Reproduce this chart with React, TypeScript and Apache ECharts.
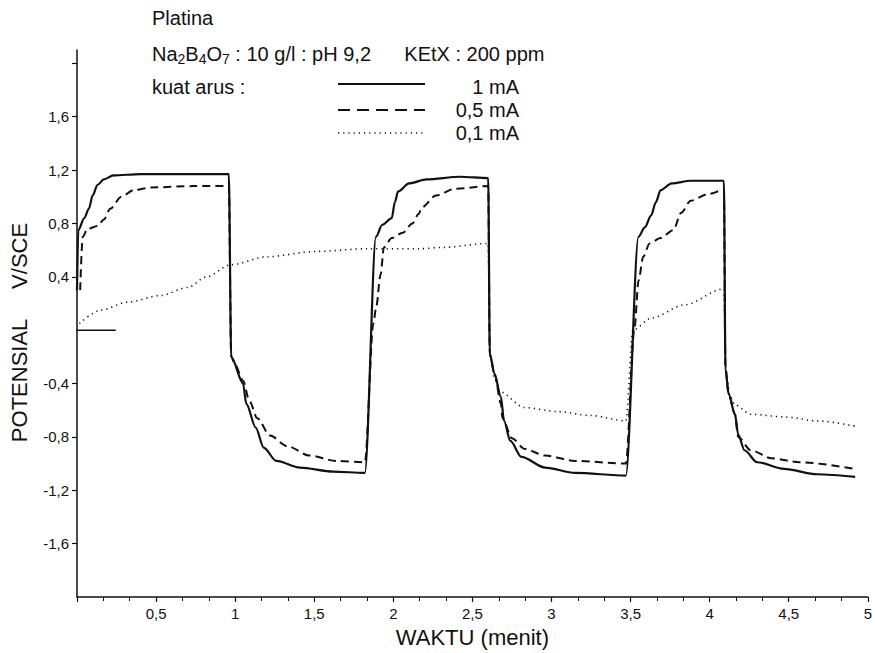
import React, { useEffect, useRef } from 'react';
import * as echarts from 'echarts';

const FONT = 'Liberation Sans, Arial, sans-serif';
const INK = '#111';

const xMin = 0;
const xMax = 5;
const yMin = -2;
const yMax = 2.1;
const yTickMarks = [-1.6, -1.2, -0.8, -0.4, 0.4, 0.8, 1.2, 1.6, 2.0];
const yTickLabels = [-1.6, -1.2, -0.8, -0.4, 0.4, 0.8, 1.2, 1.6];
const seriesNames = ['1 mA', '0,5 mA', '0,1 mA'];

// 1 mA (solid)
const current1mA = [
  [0.0, 0.3], [0.008, 0.75], [0.046, 0.84], [0.075, 0.91], [0.099, 1.01], [0.13, 1.09], [0.17, 1.13], [0.23, 1.16], [0.4, 1.17], [0.96, 1.17],
  [0.975, -0.2], [1.05, -0.4], [1.07, -0.55], [1.13, -0.73], [1.18, -0.88], [1.26, -0.98], [1.41, -1.03], [1.62, -1.06], [1.82, -1.07],
  [1.89, 0.7], [1.93, 0.79], [1.99, 0.84], [2.01, 0.96], [2.03, 1.04], [2.1, 1.1], [2.21, 1.13], [2.42, 1.15], [2.6, 1.14],
  [2.61, -0.18], [2.64, -0.33], [2.68, -0.5], [2.7, -0.68], [2.74, -0.83], [2.81, -0.95], [2.96, -1.03], [3.15, -1.07], [3.47, -1.09],
  [3.55, 0.7], [3.59, 0.77], [3.63, 0.86], [3.66, 0.96], [3.69, 1.05], [3.76, 1.1], [3.88, 1.12], [4.09, 1.12],
  [4.1, -0.29], [4.12, -0.48], [4.16, -0.63], [4.18, -0.78], [4.22, -0.9], [4.3, -0.99], [4.47, -1.04], [4.68, -1.08], [4.92, -1.1],
];

// 0,5 mA (dashed)
const current05mA = [
  [0.02, 0.3], [0.036, 0.7], [0.067, 0.76], [0.13, 0.78], [0.17, 0.83], [0.21, 0.91], [0.28, 1.0], [0.36, 1.05], [0.47, 1.07], [0.74, 1.08], [0.96, 1.08],
  [0.975, -0.2], [1.0, -0.26], [1.05, -0.38], [1.09, -0.53], [1.14, -0.66], [1.22, -0.79], [1.33, -0.87], [1.47, -0.94], [1.64, -0.98], [1.82, -0.99],
  [1.874, 0.05], [1.89, 0.16], [1.92, 0.42], [1.94, 0.62], [1.99, 0.69], [2.06, 0.73], [2.12, 0.8], [2.16, 0.87], [2.18, 0.92], [2.27, 1.01], [2.39, 1.06], [2.6, 1.08],
  [2.61, -0.18], [2.64, -0.33], [2.68, -0.55], [2.69, -0.66], [2.75, -0.81], [2.83, -0.89], [2.96, -0.94], [3.15, -0.98], [3.47, -1.0],
  [3.525, 0.02], [3.55, 0.37], [3.58, 0.55], [3.62, 0.65], [3.69, 0.69], [3.77, 0.75], [3.82, 0.88], [3.88, 0.97], [3.99, 1.02], [4.09, 1.05],
  [4.1, -0.29], [4.12, -0.48], [4.16, -0.63], [4.18, -0.8], [4.26, -0.9], [4.39, -0.96], [4.57, -0.99], [4.92, -1.04],
];

// 0,1 mA (dotted)
const current01mA = [
  [0.015, 0.05], [0.15, 0.15], [0.32, 0.21], [0.53, 0.26], [0.7, 0.32], [0.82, 0.4], [0.97, 0.49], [1.2, 0.55], [1.51, 0.59], [1.83, 0.61], [2.16, 0.61], [2.31, 0.62], [2.6, 0.65],
  [2.61, -0.18], [2.64, -0.36], [2.67, -0.46], [2.83, -0.58], [3.04, -0.61], [3.25, -0.64], [3.47, -0.68],
  [3.515, 0.0], [3.63, 0.09], [3.84, 0.19], [4.09, 0.31],
  [4.1, -0.29], [4.13, -0.5], [4.16, -0.56], [4.26, -0.63], [4.47, -0.65], [4.68, -0.68], [4.92, -0.72],
];

// short horizontal marker drawn across the y axis at 0
const zeroMarker = [[-0.176, 0], [0.245, 0]];

const fmt = (v: number) => String(Math.round(v * 10) / 10).replace('.', ',');

export default function App() {
  const ref = useRef<HTMLDivElement>(null);
  useEffect(() => {
    if (!ref.current) return;
    const chart = echarts.init(ref.current, undefined, { renderer: 'svg' });
    const txt = (text: string, x: number, y: number, align = 'left', extra: any = {}) => ({
      type: 'text',
      x,
      y,
      style: { text, fontSize: 20, fontFamily: FONT, fill: INK, align, verticalAlign: 'middle', ...extra },
    });
    const legendLine = (y: number, dash: any, width: number) => ({
      type: 'line',
      shape: { x1: 338, y1: y, x2: 425, y2: y },
      style: { stroke: INK, lineWidth: width, lineDash: dash },
    });
    const lineBase = { type: 'line', showSymbol: false, symbol: 'none', smooth: 0.3, smoothMonotone: 'x' };
    chart.setOption({
      animation: false,
      backgroundColor: '#fff',
      grid: { left: 76, right: 4, top: 50, bottom: 56 },
      xAxis: {
        type: 'value',
        min: xMin,
        max: xMax,
        interval: 0.5,
        axisLine: { onZero: false, lineStyle: { color: INK, width: 1.5 } },
        axisTick: { length: 5, lineStyle: { color: INK, width: 1.2 } },
        minorTick: { show: true, splitNumber: 3, length: 4, lineStyle: { color: INK, width: 1 } },
        splitLine: { show: false },
        minorSplitLine: { show: false },
        axisLabel: {
          formatter: (v: number) => (v === 0 ? '' : fmt(v)),
          margin: 9,
          fontSize: 15,
          color: INK,
          fontFamily: FONT,
        },
        name: 'WAKTU (menit)',
        nameLocation: 'middle',
        nameGap: 29,
        nameTextStyle: { fontSize: 22, fontFamily: FONT, color: INK },
      },
      yAxis: {
        type: 'value',
        min: yMin,
        max: yMax,
        interval: 0.4,
        axisLine: { show: true, onZero: false, lineStyle: { color: INK, width: 1.5 } },
        axisTick: { show: true, customValues: yTickMarks, length: 5, lineStyle: { color: INK, width: 1.2 } },
        splitLine: { show: false },
        axisLabel: {
          customValues: yTickLabels,
          formatter: (v: number) => fmt(v),
          margin: 8,
          fontSize: 15,
          color: INK,
          fontFamily: FONT,
        },
        name: 'POTENSIAL     V/SCE',
        nameLocation: 'middle',
        nameGap: 47,
        nameTextStyle: { fontSize: 22, fontFamily: FONT, color: INK, padding: [0, 18, 0, 0] },
      },
      series: [
        { ...lineBase, name: seriesNames[0], data: current1mA, lineStyle: { color: INK, width: 2.2, type: 'solid' } },
        { ...lineBase, name: seriesNames[1], data: current05mA, lineStyle: { color: INK, width: 2, type: [8, 5] } },
        { ...lineBase, name: seriesNames[2], data: current01mA, lineStyle: { color: INK, width: 1.6, type: [1.2, 4] } },
        {
          name: 'zero',
          type: 'line',
          data: zeroMarker,
          clip: false,
          showSymbol: false,
          symbol: 'none',
          silent: true,
          lineStyle: { color: INK, width: 1.5 },
        },
      ],
      graphic: [
        txt('Platina', 152, 18),
        txt('Na{s|2}B{s|4}O{s|7} : 10 g/l : pH 9,2      KEtX : 200 ppm', 152, 54, 'left', {
          lineHeight: 24,
          rich: { s: { fontSize: 14, lineHeight: 14, verticalAlign: 'bottom', fontFamily: FONT, fill: INK } },
        }),
        txt('kuat arus :', 152, 87),
        legendLine(84, null, 2),
        legendLine(110, [12, 7], 2),
        legendLine(133, [1.2, 4], 1.6),
        txt(seriesNames[0], 519, 87, 'right'),
        txt(seriesNames[1], 519, 110, 'right'),
        txt(seriesNames[2], 519, 133, 'right'),
      ],
    });
    return () => chart.dispose();
  }, []);
  return <div ref={ref} style={{ position: 'absolute', left: 0, top: 0, width: 875, height: 653, background: '#fff' }} />;
}
